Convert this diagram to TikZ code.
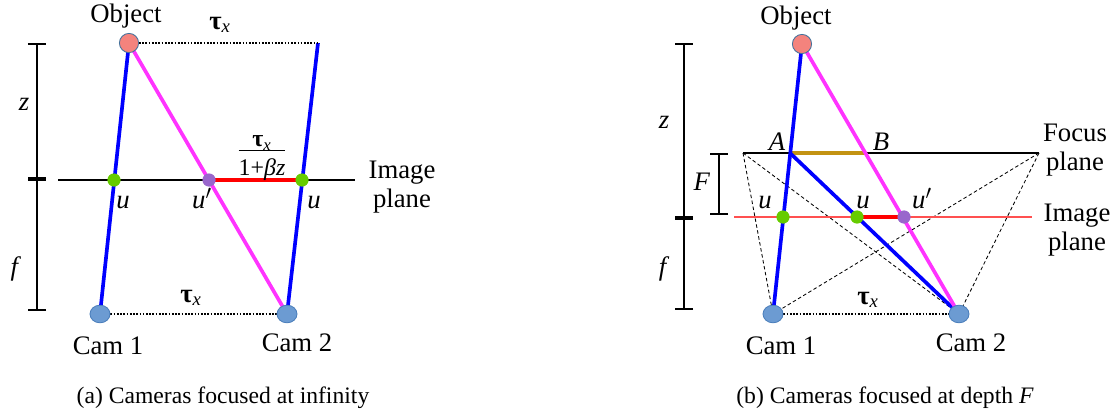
\documentclass[tikz,border=0pt]{standalone}
\usepackage{fontspec}
\setmainfont{Liberation Serif}
\usetikzlibrary{positioning, arrows.meta, backgrounds, shapes.geometric}
\definecolor{oPink}{HTML}{F4837D}
\definecolor{oEdge}{HTML}{41719C}
\definecolor{cBlue}{HTML}{6C9BD2}
\definecolor{cEdge}{HTML}{4A7EBB}
\definecolor{uGreen}{HTML}{66CC00}
\definecolor{uPurple}{HTML}{9966CC}
\definecolor{rBlue}{HTML}{0000FF}
\definecolor{rMagenta}{HTML}{FF33FF}
\definecolor{rRed}{HTML}{FF0000}
\definecolor{rLight}{HTML}{FF5050}
\definecolor{rGold}{HTML}{C39312}
\newcommand{\taux}{\textbf{τ}\textsubscript{\textit{x}}}

\begin{document}
\begin{tikzpicture}[x=0.025cm, y=-0.025cm,
  lbl/.style={font=\fontsize{19}{20.5}\selectfont, anchor=base, inner sep=0pt},
  twoline/.style={font=\fontsize{19}{20.5}\selectfont, align=center, inner sep=0pt},
  capt/.style={font=\fontsize{16.8}{19}\selectfont, anchor=base, inner sep=0pt},
  frac/.style={font=\fontsize{17}{18}\selectfont, inner sep=0pt},
  objdot/.style={circle, draw=oEdge, fill=oPink, minimum size=0.48cm, inner sep=0pt, line width=0.6pt},
  camdot/.style={ellipse, draw=cEdge, fill=cBlue, minimum width=0.5cm, minimum height=0.44cm, inner sep=0pt, line width=0.6pt},
  udot/.style={circle, fill=uGreen, minimum size=0.33cm, inner sep=0pt},
  vdot/.style={circle, fill=uPurple, minimum size=0.33cm, inner sep=0pt},
  ray/.style={line width=2.6pt, draw=rBlue},
  pray/.style={line width=2.6pt, draw=rMagenta},
  dline/.style={dash pattern=on 1.2pt off 1.1pt, line width=1.1pt},
  dashline/.style={dash pattern=on 2.5pt off 1.8pt, line width=0.6pt},
  plane/.style={line width=1.1pt},
  scalebar/.style={{Bar[width=0.45cm]}-{Bar[width=0.45cm]}, line width=1.1pt},
]
\useasboundingbox (0,0) rectangle (1119,414);

% (a) cameras focused at infinity
\node[objdot] (objA) at (129,43) {};
\node[camdot] (camA1) at (100,314) {};
\node[camdot] (camA2) at (287,314) {};
\coordinate (topA) at (318,43);
\coordinate (ipA1) at (58,180);
\coordinate (ipA2) at (355,180);
\node[udot] (uA1) at (114,180) {};
\node[vdot] (upA) at (209,180) {};
\node[udot] (uA2) at (302,180) {};
\coordinate (zA1) at (37,43);
\coordinate (zA2) at (37,179);
\coordinate (zA3) at (37,311);

\begin{scope}[on background layer]
  \draw[plane] (ipA1) -- (ipA2);
  \draw[line width=2.6pt, rRed] (upA.center) -- (uA2.center);
  \draw[ray] (objA.center) -- (camA1.center);
  \draw[ray] (topA) -- (camA2.center);
  \draw[pray] (objA.center) -- (camA2.center);
  \draw[dline] (objA) -- (topA);
  \draw[dline] (camA1) -- (camA2);
  \draw[scalebar] (zA1) -- (zA2);
  \draw[scalebar] (zA2) -- (zA3);
\end{scope}

\node[lbl] (objAlbl) at (126,22) {Object};
\node[lbl] (tauA1) at (220,29) {\taux};
\node[lbl] (zA) at (24,110) {\textit{z}};
\node[lbl] (fA) at (16,275) {\textit{f}};
\node[lbl] (uAl1) at (123,208) {\textit{u}};
\node[lbl] (upAl) at (202,208) {\textit{u}$'$};
\node[lbl] (uAl2) at (314,208) {\textit{u}};
\node[frac] (fracA) at (262,156)
  {\setlength{\arrayrulewidth}{0.8pt}\begin{tabular}{@{}c@{}}\taux\\[-3pt]\hline\rule{0pt}{2.2ex}1+\textit{βz}\end{tabular}};
\node[twoline] (ipAlbl) at (402,187) {Image\\plane};
\node[lbl] (tauA2) at (191,302) {\taux};
\node[lbl] (camAl1) at (108,354) {Cam 1};
\node[lbl] (camAl2) at (297,351) {Cam 2};
\node[capt] (captA) at (223,403) {(a) Cameras focused at infinity};

% (b) cameras focused at depth F
\node[objdot] (objB) at (802,44) {};
\node[camdot] (camB1) at (773,314) {};
\node[camdot] (camB2) at (959,314) {};
\coordinate (fpB1) at (743,153);
\coordinate (fpB2) at (1039,153);
\coordinate (ptA) at (790,153);
\coordinate (ptB) at (866,153);
\coordinate (ipB1) at (734,217);
\coordinate (ipB2) at (1032,217);
\node[udot] (uB1) at (783,217) {};
\node[udot] (uB2) at (857,217) {};
\node[vdot] (upB) at (904,217) {};
\coordinate (zB1) at (684,43);
\coordinate (zB2) at (684,218);
\coordinate (zB3) at (684,310);
\coordinate (FB1) at (719,153);
\coordinate (FB2) at (719,215);

\begin{scope}[on background layer]
  \draw[dashline] (fpB1) -- (camB1.center);
  \draw[dashline] (fpB1) -- (camB2.center);
  \draw[dashline] (fpB2) -- (camB1.center);
  \draw[dashline] (fpB2) -- (camB2.center);
  \draw[plane] (fpB1) -- (fpB2);
  \draw[line width=1pt, rLight] (ipB1) -- (ipB2);
  \draw[line width=2.6pt, rRed] (uB2.center) -- (upB.center);
  \draw[line width=2.6pt, rGold] (ptA) -- (ptB);
  \draw[ray] (objB.center) -- (camB1.center);
  \draw[ray] (ptA) -- (camB2.center);
  \draw[pray] (objB.center) -- (camB2.center);
  \draw[dline] (camB1) -- (camB2);
  \draw[scalebar] (zB1) -- (zB2);
  \draw[scalebar] (zB2) -- (zB3);
  \draw[scalebar] (FB1) -- (FB2);
\end{scope}

\node[lbl] (objBlbl) at (796,25) {Object};
\node[lbl] (zB) at (664,128) {\textit{z}};
\node[lbl] (fB) at (664,275) {\textit{f}};
\node[lbl] (FB) at (702,190) {\textit{F}};
\node[lbl] (Albl) at (777,150) {\textit{A}};
\node[lbl] (Blbl) at (881,150) {\textit{B}};
\node[lbl] (uBl1) at (765,208) {\textit{u}};
\node[lbl] (uBl2) at (863,208) {\textit{u}};
\node[lbl] (upBl) at (922,208) {\textit{u}$'$};
\node[twoline] (fpBlbl) at (1075,150) {Focus\\plane};
\node[twoline] (ipBlbl) at (1077,230) {Image\\plane};
\node[lbl] (tauB) at (868,304) {\taux};
\node[lbl] (camBl1) at (781,354) {Cam 1};
\node[lbl] (camBl2) at (971,351) {Cam 2};
\node[capt] (captB) at (885,403) {(b) Cameras focused at depth \textit{F}};
\end{tikzpicture}
\end{document}
